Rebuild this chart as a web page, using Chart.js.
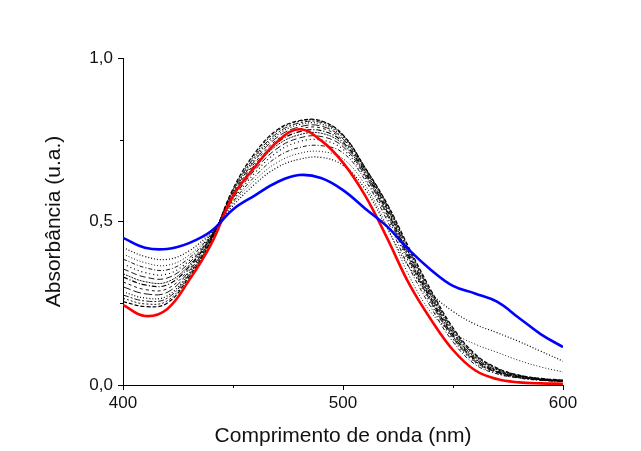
<!DOCTYPE html>
<html lang="pt">
<head>
<meta charset="UTF-8">
<title>Absorbância</title>
<script src="https://cdn.jsdelivr.net/npm/chart.js"></script>
<style>
  html, body { margin: 0; padding: 0; background: #fff; }
  #chart { display: block; }
</style>
</head>
<body>
<canvas id="chart" width="641" height="451"></canvas>
<script>
// comprimento de onda (nm)
const wavelengths = [400, 410, 420, 430, 440, 450, 460, 470, 480, 490, 500,
                     510, 520, 530, 540, 550, 560, 570, 580, 590, 600];

// final spectrum (red) and first spectrum (blue)
const spectrumRed  = [0.245, 0.211, 0.232, 0.320, 0.430, 0.578, 0.667, 0.743, 0.782, 0.748, 0.680,
                      0.580, 0.450, 0.310, 0.200, 0.107, 0.045, 0.018, 0.008, 0.005, 0.004];
const spectrumBlue = [0.450, 0.420, 0.416, 0.434, 0.470, 0.537, 0.580, 0.620, 0.642, 0.633, 0.596,
                      0.540, 0.485, 0.413, 0.352, 0.303, 0.280, 0.255, 0.205, 0.155, 0.116];

// intermediate spectra (thin black)
const curve01 = [0.255, 0.240, 0.250, 0.330, 0.440, 0.600, 0.710, 0.780, 0.808, 0.808, 0.765, 0.665, 0.555, 0.420, 0.290, 0.175, 0.095, 0.052, 0.030, 0.020, 0.015];
const curve02 = [0.265, 0.248, 0.257, 0.334, 0.442, 0.597, 0.705, 0.776, 0.806, 0.807, 0.765, 0.666, 0.553, 0.416, 0.286, 0.172, 0.093, 0.051, 0.030, 0.020, 0.014];
const curve03 = [0.275, 0.257, 0.265, 0.338, 0.444, 0.593, 0.699, 0.770, 0.801, 0.803, 0.762, 0.664, 0.550, 0.412, 0.282, 0.168, 0.090, 0.049, 0.029, 0.019, 0.014];
const curve04 = [0.285, 0.266, 0.272, 0.342, 0.446, 0.590, 0.693, 0.764, 0.796, 0.798, 0.758, 0.661, 0.546, 0.407, 0.278, 0.164, 0.087, 0.047, 0.028, 0.018, 0.013];
const curve05 = [0.300, 0.279, 0.283, 0.348, 0.448, 0.586, 0.687, 0.757, 0.789, 0.792, 0.753, 0.658, 0.542, 0.402, 0.273, 0.160, 0.084, 0.045, 0.027, 0.018, 0.013];
const curve06 = [0.315, 0.292, 0.294, 0.354, 0.450, 0.582, 0.680, 0.750, 0.782, 0.786, 0.748, 0.654, 0.537, 0.397, 0.268, 0.156, 0.081, 0.043, 0.026, 0.017, 0.012];
const curve07 = [0.330, 0.306, 0.306, 0.361, 0.452, 0.578, 0.673, 0.741, 0.774, 0.778, 0.742, 0.650, 0.532, 0.392, 0.263, 0.152, 0.078, 0.041, 0.025, 0.016, 0.012];
const curve08 = [0.340, 0.316, 0.315, 0.366, 0.454, 0.574, 0.666, 0.733, 0.765, 0.770, 0.736, 0.646, 0.527, 0.387, 0.258, 0.148, 0.075, 0.040, 0.024, 0.016, 0.011];
const curve09 = [0.355, 0.330, 0.327, 0.373, 0.456, 0.570, 0.658, 0.723, 0.755, 0.760, 0.729, 0.641, 0.521, 0.381, 0.253, 0.144, 0.072, 0.038, 0.023, 0.015, 0.011];
const curve10 = [0.370, 0.344, 0.339, 0.380, 0.458, 0.565, 0.649, 0.712, 0.744, 0.749, 0.721, 0.635, 0.514, 0.374, 0.247, 0.140, 0.069, 0.036, 0.022, 0.015, 0.011];
const curve11 = [0.385, 0.359, 0.352, 0.388, 0.461, 0.560, 0.638, 0.697, 0.726, 0.732, 0.710, 0.627, 0.504, 0.360, 0.237, 0.132, 0.063, 0.034, 0.021, 0.014, 0.010];
const curve12 = [0.400, 0.374, 0.366, 0.397, 0.464, 0.555, 0.627, 0.680, 0.708, 0.714, 0.692, 0.612, 0.485, 0.335, 0.222, 0.160, 0.125, 0.100, 0.075, 0.055, 0.040];
const curve13 = [0.420, 0.393, 0.384, 0.410, 0.468, 0.548, 0.615, 0.665, 0.690, 0.696, 0.672, 0.600, 0.480, 0.360, 0.280, 0.225, 0.186, 0.160, 0.133, 0.103, 0.073];

const blackCurves = [curve01, curve02, curve03, curve04, curve05, curve06, curve07,
                     curve08, curve09, curve10, curve11, curve12, curve13];

// tick labels
const xTicks = [400, 500, 600];
const yTicks = [0, 0.5, 1.0];
const xMinorTicks = [450, 550];
const yMinorTicks = [0.25, 0.75];

// line styles for the thin curves
const dashes = [[4, 2], [2, 2], [6, 2, 2, 2], [1, 2], [8, 3], [3, 3], [5, 2, 1, 2],
                [2, 1], [6, 3], [1, 3], [4, 2, 1, 2], [1, 2], [1, 2]];

const FONT = "'Liberation Sans', Arial, sans-serif";

function points(arr) {
    return wavelengths.map((w, i) => ({ x: w, y: arr[i] }));
}

const datasets = blackCurves.map((c, i) => ({
    data: points(c),
    borderColor: '#000',
    borderWidth: i % 3 === 0 ? 1.2 : 0.9,
    borderDash: dashes[i],
    order: 2
}));
datasets.push({ data: points(spectrumRed), borderColor: '#ff0000', borderWidth: 2.6, order: 1 });
datasets.push({ data: points(spectrumBlue), borderColor: '#0000ff', borderWidth: 2.6, order: 0 });

// short minor ticks drawn outside the plot area
const minorTicks = {
    id: 'minorTicks',
    afterDraw(chart) {
        const { ctx, scales: { x, y } } = chart;
        ctx.save();
        ctx.strokeStyle = '#000';
        ctx.lineWidth = 1;
        xMinorTicks.forEach(v => {
            const px = Math.round(x.getPixelForValue(v)) + 0.5;
            ctx.beginPath();
            ctx.moveTo(px, x.top);
            ctx.lineTo(px, x.top + 3);
            ctx.stroke();
        });
        yMinorTicks.forEach(v => {
            const py = Math.round(y.getPixelForValue(v)) + 0.5;
            ctx.beginPath();
            ctx.moveTo(y.right - 3, py);
            ctx.lineTo(y.right, py);
            ctx.stroke();
        });
        ctx.restore();
    }
};

new Chart(document.getElementById('chart'), {
    type: 'line',
    data: { datasets },
    plugins: [minorTicks],
    options: {
        responsive: false,
        animation: false,
        layout: { padding: { top: 58, right: 78, bottom: 0, left: 0 } },
        elements: {
            point: { radius: 0 },
            line: { tension: 0.4, fill: false }
        },
        plugins: { legend: { display: false }, tooltip: { enabled: false } },
        scales: {
            x: {
                type: 'linear',
                min: 400,
                max: 600,
                afterFit: s => { s.height = 66; },
                afterBuildTicks: s => { s.ticks = xTicks.map(v => ({ value: v })); },
                ticks: { font: { family: FONT, size: 17 }, color: '#111', padding: 3, maxRotation: 0 },
                grid: { drawOnChartArea: false, tickLength: 5, color: '#000' },
                border: { color: '#000', width: 1 },
                title: {
                    display: true,
                    text: 'Comprimento de onda (nm)',
                    font: { family: FONT, size: 21 },
                    color: '#111',
                    padding: { top: 0, bottom: 2 }
                }
            },
            y: {
                min: 0,
                max: 1,
                afterFit: s => { s.width = 123; },
                afterBuildTicks: s => { s.ticks = yTicks.map(v => ({ value: v })); },
                ticks: {
                    font: { family: FONT, size: 17 },
                    color: '#111',
                    padding: 5,
                    callback: v => v.toFixed(1).replace('.', ',')
                },
                grid: { drawOnChartArea: false, tickLength: 5, color: '#000' },
                border: { color: '#000', width: 1 },
                title: {
                    display: true,
                    text: 'Absorbância (u.a.)',
                    font: { family: FONT, size: 21 },
                    color: '#111',
                    padding: { top: 42, bottom: 0 }
                }
            }
        }
    }
});
</script>
</body>
</html>
